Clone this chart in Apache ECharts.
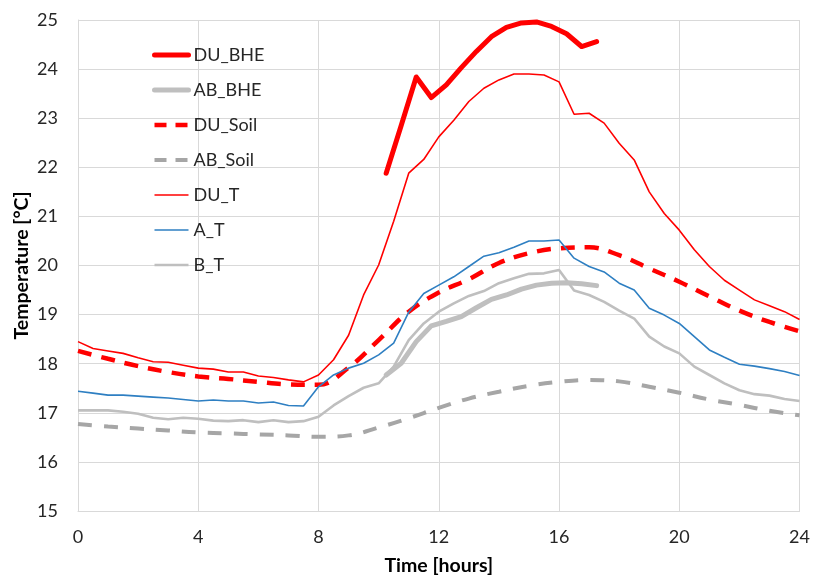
<!DOCTYPE html>
<html>
<head>
<meta charset="utf-8">
<script src="https://cdn.jsdelivr.net/npm/echarts@6/dist/echarts.min.js"></script>
<style>html,body{margin:0;padding:0;background:#fff;}#c{width:813px;height:581px;}</style>
</head>
<body>
<div id="c"></div>
<script>
// Half-hour time steps for the room temperature series
var hoursHalf = [0,0.5,1,1.5,2,2.5,3,3.5,4,4.5,5,5.5,6,6.5,7,7.5,8,8.5,9,9.5,10,10.5,11,11.5,12,12.5,13,13.5,14,14.5,15,15.5,16,16.5,17,17.5,18,18.5,19,19.5,20,20.5,21,21.5,22,22.5,23,23.5,24];
// Hourly steps for soil series
var hoursSoil = [0,1,2,3,4,5,6,7,8,9,10,11,12,13,14,15,16,17,18,19,20,21,22,23,24];
// BHE time steps
var hoursBHE = [10.25,10.75,11.25,11.75,12.25,12.75,13.25,13.75,14.25,14.75,15.25,15.75,16.25,16.75,17.25];

var DU_BHE = [21.88,22.85,23.84,23.42,23.68,24.03,24.36,24.66,24.85,24.94,24.96,24.87,24.72,24.46,24.56];
var AB_BHE = [17.77,18.01,18.45,18.77,18.86,18.96,19.14,19.31,19.40,19.52,19.60,19.64,19.65,19.63,19.59];
var DU_Soil = [18.26,18.10,17.95,17.83,17.74,17.69,17.63,17.58,17.57,17.92,18.48,19.06,19.45,19.72,20.05,20.25,20.35,20.37,20.21,19.94,19.67,19.37,19.08,18.85,18.66];
var AB_Soil = [16.77,16.72,16.68,16.64,16.60,16.58,16.56,16.54,16.51,16.54,16.70,16.89,17.10,17.29,17.43,17.55,17.63,17.67,17.64,17.53,17.41,17.27,17.16,17.04,16.95];
var DU_T = [18.45,18.31,18.26,18.21,18.12,18.04,18.03,17.97,17.91,17.89,17.83,17.83,17.75,17.72,17.67,17.63,17.77,18.08,18.58,19.40,20.01,20.90,21.88,22.16,22.62,22.96,23.34,23.61,23.78,23.90,23.90,23.88,23.74,23.08,23.10,22.90,22.49,22.15,21.50,21.06,20.72,20.32,19.98,19.70,19.50,19.30,19.18,19.06,18.90];
var A_T = [17.44,17.40,17.36,17.36,17.34,17.32,17.30,17.27,17.24,17.26,17.24,17.24,17.20,17.22,17.15,17.14,17.53,17.77,17.91,18.01,18.18,18.42,19.05,19.43,19.60,19.77,19.98,20.19,20.26,20.37,20.50,20.50,20.52,20.15,19.98,19.87,19.64,19.50,19.13,18.99,18.82,18.55,18.28,18.13,17.99,17.95,17.90,17.84,17.76];
var B_T = [17.05,17.05,17.05,17.02,16.98,16.90,16.87,16.90,16.88,16.84,16.83,16.85,16.81,16.85,16.81,16.83,16.92,17.15,17.34,17.51,17.60,17.94,18.48,18.82,19.06,19.23,19.38,19.48,19.64,19.74,19.83,19.84,19.91,19.49,19.40,19.26,19.08,18.92,18.55,18.35,18.21,17.94,17.77,17.60,17.46,17.38,17.35,17.28,17.24];

function pairs(xs, ys){ return xs.map(function(x,i){ return [x, ys[i]]; }); }

var FONT = 'Lato';
var RED = '#ff0000', LGRAY = '#bfbfbf', DGRAY = '#a6a6a6', BLUE = '#2e7fc2';
var chart = echarts.init(document.getElementById('c'), null, {renderer:'canvas'});
chart.setOption({
  animation: false,
  backgroundColor: '#ffffff',
  textStyle: {fontFamily: FONT},
  grid: {left: 78, right: 13, top: 20, bottom: 70, containLabel: false},
  legend: {
    orient: 'vertical', left: 147, top: 41,
    itemWidth: 34, itemHeight: 14, itemGap: 17,
    itemStyle: {opacity: 0},
    textStyle: {fontFamily: FONT, fontSize: 18, lineHeight: 18, color: '#262626'},
    data: [
      {name: 'DU_BHE', lineStyle: {width: 5, color: RED, type: 'solid'}},
      {name: 'AB_BHE', lineStyle: {width: 5, color: LGRAY, type: 'solid'}},
      {name: 'DU_Soil', lineStyle: {width: 4.5, color: RED, type: [12, 9]}},
      {name: 'AB_Soil', lineStyle: {width: 4, color: DGRAY, type: [12, 9]}},
      {name: 'DU_T', lineStyle: {width: 1.6, color: RED, type: 'solid'}},
      {name: 'A_T', lineStyle: {width: 1.6, color: BLUE, type: 'solid'}},
      {name: 'B_T', lineStyle: {width: 2.6, color: LGRAY, type: 'solid'}}
    ]
  },
  xAxis: {
    type: 'value', min: 0, max: 24, interval: 4,
    name: 'Time [hours]', nameLocation: 'middle', nameGap: 45,
    nameTextStyle: {fontFamily: FONT, fontSize: 19.5, fontWeight: 'bold', color: '#000'},
    axisLine: {show: true, lineStyle: {color: '#d9d9d9', width: 1}},
    axisTick: {show: false},
    axisLabel: {fontFamily: FONT, fontSize: 18, color: '#262626', margin: 17},
    splitLine: {show: true, lineStyle: {color: '#d9d9d9', width: 1}}
  },
  yAxis: {
    type: 'value', min: 15, max: 25, interval: 1,
    name: 'Temperature [°C]', nameLocation: 'middle', nameGap: 46, nameMoveOverlap: false,
    nameTextStyle: {fontFamily: FONT, fontSize: 19.5, fontWeight: 'bold', color: '#000'},
    axisLine: {show: true, lineStyle: {color: '#d9d9d9', width: 1}},
    axisTick: {show: false},
    axisLabel: {fontFamily: FONT, fontSize: 18, color: '#262626', margin: 20},
    splitLine: {show: true, lineStyle: {color: '#d9d9d9', width: 1}}
  },
  series: [
    {name: 'DU_BHE', type: 'line', data: pairs(hoursBHE, DU_BHE), showSymbol: false, symbol: 'none',
     lineStyle: {color: RED, width: 5, cap: 'round', join: 'round'}, itemStyle: {color: RED}, z: 7},
    {name: 'AB_BHE', type: 'line', data: pairs(hoursBHE, AB_BHE), showSymbol: false, symbol: 'none',
     lineStyle: {color: LGRAY, width: 5, cap: 'round', join: 'round'}, itemStyle: {color: LGRAY}, z: 2},
    {name: 'DU_Soil', type: 'line', data: pairs(hoursSoil, DU_Soil), smooth: 0.4, showSymbol: false, symbol: 'none',
     lineStyle: {color: RED, width: 4.5, type: [14, 10]}, itemStyle: {color: RED}, z: 3},
    {name: 'AB_Soil', type: 'line', data: pairs(hoursSoil, AB_Soil), smooth: 0.4, showSymbol: false, symbol: 'none',
     lineStyle: {color: DGRAY, width: 4, type: [14, 12]}, itemStyle: {color: DGRAY}, z: 3},
    {name: 'DU_T', type: 'line', data: pairs(hoursHalf, DU_T), showSymbol: false, symbol: 'none',
     lineStyle: {color: RED, width: 1.6}, itemStyle: {color: RED}, z: 4},
    {name: 'A_T', type: 'line', data: pairs(hoursHalf, A_T), showSymbol: false, symbol: 'none',
     lineStyle: {color: BLUE, width: 1.6}, itemStyle: {color: BLUE}, z: 5},
    {name: 'B_T', type: 'line', data: pairs(hoursHalf, B_T), showSymbol: false, symbol: 'none',
     lineStyle: {color: LGRAY, width: 2.6}, itemStyle: {color: LGRAY}, z: 1}
  ]
});
</script>
</body>
</html>
